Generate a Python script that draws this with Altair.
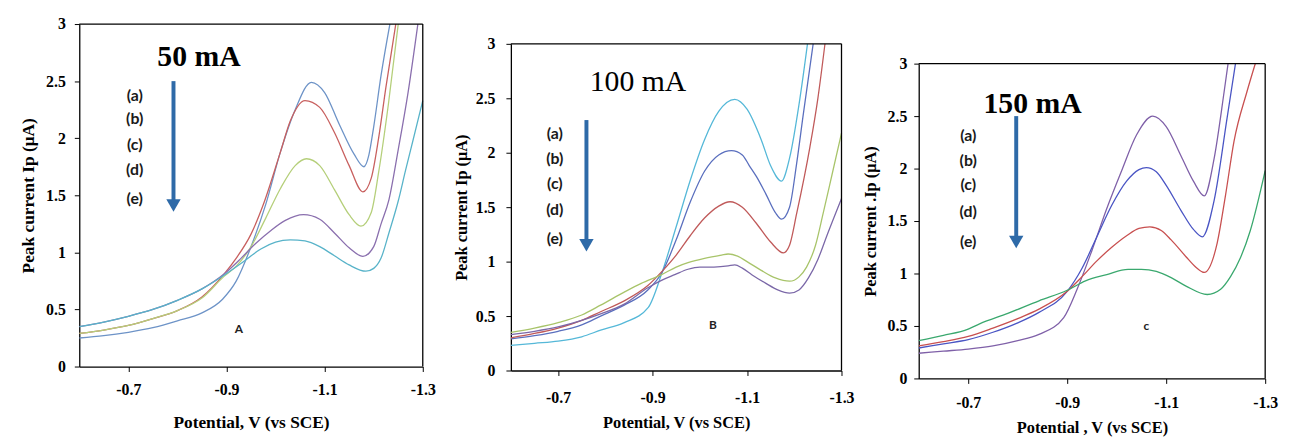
import altair as alt
import pandas as pd

SERIF = "Liberation Serif"
SANS = "Lato"

X_TICKS = [-0.7, -0.9, -1.1, -1.3]
Y_TICKS = [0, 0.5, 1, 1.5, 2, 2.5, 3]
LABELS = ["(a)", "(b)", "(c)", "(d)", "(e)"]

# ---------------- Panel A : 50 mA ----------------
A_a_x = [-0.60, -0.65, -0.70, -0.75, -0.80, -0.85, -0.892, -0.92, -0.95, -0.98, -1.01, -1.04, -1.073, -1.10, -1.13, -1.16, -1.18, -1.19, -1.20, -1.215, -1.233]
A_a_y = [0.25, 0.27, 0.30, 0.34, 0.40, 0.47, 0.59, 0.75, 1.05, 1.42, 1.88, 2.25, 2.49, 2.40, 2.12, 1.86, 1.75, 1.85, 2.10, 2.55, 3.0]
A_b_x = [-0.60, -0.65, -0.70, -0.75, -0.80, -0.85, -0.895, -0.92, -0.95, -0.976, -1.01, -1.03, -1.06, -1.09, -1.12, -1.15, -1.178, -1.195, -1.21, -1.225, -1.245]
A_b_y = [0.29, 0.32, 0.36, 0.42, 0.49, 0.61, 0.81, 0.95, 1.16, 1.43, 1.88, 2.15, 2.33, 2.27, 2.05, 1.76, 1.53, 1.65, 2.0, 2.45, 3.0]
A_c_x = [-0.60, -0.65, -0.70, -0.75, -0.80, -0.85, -0.895, -0.92, -0.95, -0.98, -1.01, -1.04, -1.063, -1.09, -1.12, -1.15, -1.174, -1.195, -1.21, -1.23, -1.25]
A_c_y = [0.29, 0.32, 0.36, 0.42, 0.49, 0.60, 0.79, 0.88, 1.05, 1.30, 1.56, 1.76, 1.82, 1.76, 1.55, 1.33, 1.23, 1.35, 1.7, 2.3, 3.0]
A_d_x = [-0.60, -0.65, -0.70, -0.75, -0.80, -0.85, -0.895, -0.93, -0.96, -0.99, -1.02, -1.057, -1.09, -1.12, -1.15, -1.178, -1.20, -1.215, -1.231, -1.25, -1.27, -1.29]
A_d_y = [0.35, 0.39, 0.44, 0.50, 0.58, 0.68, 0.81, 0.95, 1.08, 1.19, 1.28, 1.33, 1.29, 1.17, 1.04, 0.965, 1.05, 1.25, 1.46, 1.90, 2.40, 3.0]
A_e_x = [-0.60, -0.65, -0.70, -0.75, -0.80, -0.85, -0.895, -0.935, -0.97, -1.00, -1.03, -1.06, -1.09, -1.12, -1.15, -1.184, -1.20, -1.215, -1.231, -1.25, -1.265, -1.28, -1.30]
A_e_y = [0.35, 0.39, 0.44, 0.50, 0.58, 0.68, 0.80, 0.92, 1.03, 1.09, 1.11, 1.10, 1.05, 0.97, 0.89, 0.835, 0.86, 0.95, 1.17, 1.45, 1.72, 1.98, 2.33]
A_colors = ["#6d93c7", "#c8605f", "#b5cf7a", "#8a6fae", "#58b3c9"]

# ---------------- Panel B : 100 mA ----------------
B_a_x = [-0.60, -0.65, -0.70, -0.75, -0.79, -0.84, -0.891, -0.92, -0.95, -0.98, -1.01, -1.04, -1.074, -1.10, -1.13, -1.15, -1.173, -1.19, -1.212, -1.228]
B_a_y = [0.23, 0.25, 0.27, 0.31, 0.37, 0.44, 0.58, 0.90, 1.32, 1.75, 2.12, 2.38, 2.49, 2.40, 2.12, 1.88, 1.74, 1.95, 2.5, 3.0]
B_b_x = [-0.60, -0.65, -0.70, -0.75, -0.79, -0.84, -0.89, -0.92, -0.95, -0.98, -1.01, -1.04, -1.067, -1.09, -1.105, -1.12, -1.14, -1.16, -1.173, -1.19, -1.205, -1.219, -1.24]
B_b_y = [0.29, 0.32, 0.36, 0.42, 0.50, 0.60, 0.74, 0.90, 1.20, 1.55, 1.83, 1.98, 2.02, 1.98, 1.88, 1.78, 1.62, 1.45, 1.39, 1.50, 1.90, 2.35, 3.0]
B_c_x = [-0.60, -0.65, -0.70, -0.75, -0.79, -0.84, -0.89, -0.92, -0.95, -0.98, -1.01, -1.04, -1.064, -1.09, -1.12, -1.15, -1.177, -1.19, -1.205, -1.233, -1.25, -1.265]
B_c_y = [0.30, 0.34, 0.39, 0.46, 0.54, 0.64, 0.78, 0.91, 1.06, 1.24, 1.40, 1.51, 1.55, 1.50, 1.35, 1.18, 1.08, 1.15, 1.44, 2.05, 2.5, 3.0]
B_d_x = [-0.60, -0.65, -0.70, -0.75, -0.79, -0.84, -0.876, -0.919, -0.95, -0.975, -1.01, -1.046, -1.06, -1.08, -1.10, -1.13, -1.16, -1.19, -1.21, -1.226, -1.245, -1.261, -1.28, -1.30]
B_d_y = [0.35, 0.39, 0.44, 0.51, 0.60, 0.72, 0.80, 0.88, 0.95, 0.99, 1.03, 1.06, 1.07, 1.05, 1.00, 0.92, 0.85, 0.82, 0.86, 0.95, 1.15, 1.44, 1.80, 2.18]
B_e_x = [-0.60, -0.65, -0.70, -0.75, -0.79, -0.84, -0.89, -0.92, -0.947, -0.975, -1.00, -1.03, -1.06, -1.074, -1.09, -1.11, -1.14, -1.165, -1.19, -1.21, -1.23, -1.25, -1.27, -1.30]
B_e_y = [0.33, 0.36, 0.40, 0.46, 0.52, 0.61, 0.76, 0.83, 0.88, 0.93, 0.95, 0.95, 0.96, 0.97, 0.94, 0.88, 0.80, 0.74, 0.71, 0.74, 0.85, 1.02, 1.25, 1.58]
B_colors = ["#55b8d8", "#5a6fbe", "#c05a5a", "#a8c46a", "#7b68a8"]

# ---------------- Panel C : 150 mA ----------------
C_a_x = [-0.60, -0.65, -0.70, -0.75, -0.80, -0.843, -0.893, -0.92, -0.95, -0.98, -1.01, -1.04, -1.073, -1.10, -1.13, -1.155, -1.177, -1.197, -1.217, -1.225]
C_a_y = [0.24, 0.26, 0.28, 0.31, 0.36, 0.42, 0.58, 0.85, 1.22, 1.62, 1.98, 2.32, 2.50, 2.40, 2.12, 1.88, 1.74, 2.10, 2.73, 3.0]
C_b_x = [-0.60, -0.65, -0.70, -0.75, -0.80, -0.843, -0.90, -0.93, -0.96, -0.99, -1.02, -1.045, -1.06, -1.08, -1.10, -1.13, -1.155, -1.173, -1.197, -1.223, -1.24]
C_b_y = [0.29, 0.33, 0.37, 0.44, 0.53, 0.63, 0.83, 1.05, 1.35, 1.65, 1.88, 1.99, 2.01, 1.97, 1.84, 1.60, 1.42, 1.35, 1.70, 2.48, 3.0]
C_c_x = [-0.60, -0.65, -0.70, -0.75, -0.80, -0.843, -0.90, -0.93, -0.96, -0.99, -1.02, -1.045, -1.067, -1.09, -1.11, -1.14, -1.16, -1.177, -1.203, -1.22, -1.237, -1.263, -1.28]
C_c_y = [0.31, 0.35, 0.40, 0.48, 0.57, 0.66, 0.83, 0.97, 1.12, 1.25, 1.36, 1.43, 1.445, 1.41, 1.32, 1.16, 1.06, 1.01, 1.29, 1.75, 2.26, 2.73, 3.0]
C_e_x = [-0.60, -0.65, -0.70, -0.723, -0.78, -0.843, -0.90, -0.937, -0.98, -1.023, -1.05, -1.08, -1.11, -1.14, -1.183, -1.21, -1.23, -1.25, -1.27, -1.30]
C_e_y = [0.36, 0.41, 0.47, 0.52, 0.62, 0.74, 0.84, 0.93, 0.99, 1.04, 1.04, 1.02, 0.96, 0.88, 0.80, 0.85, 0.97, 1.15, 1.41, 1.98]
C_colors = ["#7f60a8", "#4a55c4", "#c85050", "#3aa86e"]

ARROW_COLOR = "#2e6aa8"


def curves_df(series):
    rows = []
    for key, xs, ys in series:
        for i, (x, y) in enumerate(zip(xs, ys)):
            rows.append({"curve": key, "V": x, "I": y, "idx": i})
    return pd.DataFrame(rows)


def make_panel(series, colors, heading, heading_pos, heading_weight, arrow, label_x, label_ys,
               letter, letter_pos, yrange, xrange, width, height, xoffset, ytitle, xtitle,
               ylab_pad, ytitle_pad, xlab_pad, xtitle_pad, title_size):
    keys = [s[0] for s in series]
    df = curves_df(series)
    xscale = alt.Scale(domain=[-0.6, -1.3], range=xrange, nice=False, zero=False)
    yscale = alt.Scale(domain=[0, 3], range=yrange, nice=False, zero=False)
    common = dict(labelFont=SERIF, titleFont=SERIF, labelFontSize=16, titleFontSize=title_size,
                  labelFontWeight="bold", titleFontWeight="bold", labelColor="black",
                  titleColor="black", domainColor="black", tickColor="black", grid=False,
                  domainWidth=1.3, tickSize=5, labelFlush=False)
    x_enc = alt.X("V:Q", scale=xscale,
                  axis=alt.Axis(values=X_TICKS, labelExpr="'-' + format(abs(datum.value), '.1f')",
                                title=xtitle, offset=xoffset, labelPadding=xlab_pad,
                                titlePadding=xtitle_pad, **common))
    y_enc = alt.Y("I:Q", scale=yscale,
                  axis=alt.Axis(values=Y_TICKS, format="~g", title=ytitle,
                                labelPadding=ylab_pad, titlePadding=ytitle_pad, **common))

    lines = alt.Chart(df).mark_line(strokeWidth=1.3, interpolate="monotone", clip=True).encode(
        x=x_enc, y=y_enc,
        color=alt.Color("curve:N", scale=alt.Scale(domain=keys, range=colors), legend=None),
        order=alt.Order("idx:Q"),
    )

    frame_df = pd.DataFrame({"V": [-0.6, -1.3], "V2": [-1.3, -1.3], "I": [3, 0], "I2": [3, 3]})
    frame = alt.Chart(frame_df).mark_rule(color="black", strokeWidth=1.3).encode(
        x=x_enc, x2="V2:Q", y=y_enc, y2="I2:Q")

    ax, atop, atip = arrow
    head = 0.07
    arrow_df = pd.DataFrame({"V": [ax], "I": [atop], "I2": [atip + head]})
    arrow_line = alt.Chart(arrow_df).mark_rule(color=ARROW_COLOR, strokeWidth=4).encode(
        x=x_enc, y=y_enc, y2="I2:Q")
    head_df = pd.DataFrame({"V": [ax], "I": [atip + head]})
    arrow_head = alt.Chart(head_df).mark_point(shape="triangle-down", filled=True, size=210,
                                               color=ARROW_COLOR, opacity=1, strokeWidth=0).encode(
        x=x_enc, y=y_enc)

    head_txt = alt.Chart(pd.DataFrame({"V": [heading_pos[0]], "I": [heading_pos[1]], "t": [heading]})).mark_text(
        font=SERIF, fontSize=30, fontWeight=heading_weight, color="black").encode(x=x_enc, y=y_enc, text="t:N")

    lab_df = pd.DataFrame({"V": [label_x] * len(LABELS), "I": label_ys, "t": LABELS})
    labs = alt.Chart(lab_df).mark_text(font=SANS, fontSize=16, fontWeight="bold", color="#1a1a1a").encode(
        x=x_enc, y=y_enc, text="t:N")

    let = alt.Chart(pd.DataFrame({"V": [letter_pos[0]], "I": [letter_pos[1]], "t": [letter]})).mark_text(
        font=SANS, fontSize=12, fontWeight="bold", color="#222222").encode(x=x_enc, y=y_enc, text="t:N")

    return alt.layer(lines, frame, arrow_line, arrow_head, head_txt, labs, let).properties(
        width=width, height=height)


H = 358
pA = make_panel(
    [("a", A_a_x, A_a_y), ("b", A_b_x, A_b_y), ("c", A_c_x, A_c_y), ("d", A_d_x, A_d_y), ("e", A_e_x, A_e_y)],
    A_colors, "50 mA", (-0.844, 2.71), "bold", (-0.792, 2.50, 1.34), -0.713,
    [2.37, 2.17, 1.94, 1.72, 1.47], "A", (-0.925, 0.33),
    [346, 0], [0, 347], 396, H, -12, "Peak current  Ip (μA)", "Potential, V (vs SCE)",
    9, 8, 10, 17, 17.5)

pB = make_panel(
    [("a", B_a_x, B_a_y), ("b", B_b_x, B_b_y), ("c", B_c_x, B_c_y), ("d", B_d_x, B_d_y), ("e", B_e_x, B_e_y)],
    B_colors, "100 mA", (-0.869, 2.65), "normal", (-0.76, 2.30, 1.08), -0.693,
    [2.17, 1.94, 1.71, 1.47, 1.21], "B", (-1.028, 0.42),
    [350, 20], [0, 334], 372, H, -8, "Peak current  Ip (μA)", "Potential, V (vs SCE)",
    11, 6, 14, 10, 16.5)

pC = make_panel(
    [("a", C_a_x, C_a_y), ("b", C_b_x, C_b_y), ("c", C_c_x, C_c_y), ("e", C_e_x, C_e_y)],
    C_colors, "150 mA", (-0.83, 2.61), "bold", (-0.797, 2.50, 1.23), -0.70,
    [2.31, 2.07, 1.84, 1.59, 1.30], "c", (-1.06, 0.50),
    [358, 40], [0, 350], 350, H, 0, "Peak current .Ip (μA)", "Potential , V (vs SCE)",
    7, 9, 11, 10, 16.5)

chart = alt.hconcat(pA, pB, pC, spacing=40, bounds="flush").resolve_scale(
    x="independent", y="independent", color="independent"
).properties(
    padding={"left": 12, "top": 6, "right": 5, "bottom": 2}
).configure_view(stroke=None)

chart.save("out.html", embed_options={"renderer": "svg", "actions": False})
